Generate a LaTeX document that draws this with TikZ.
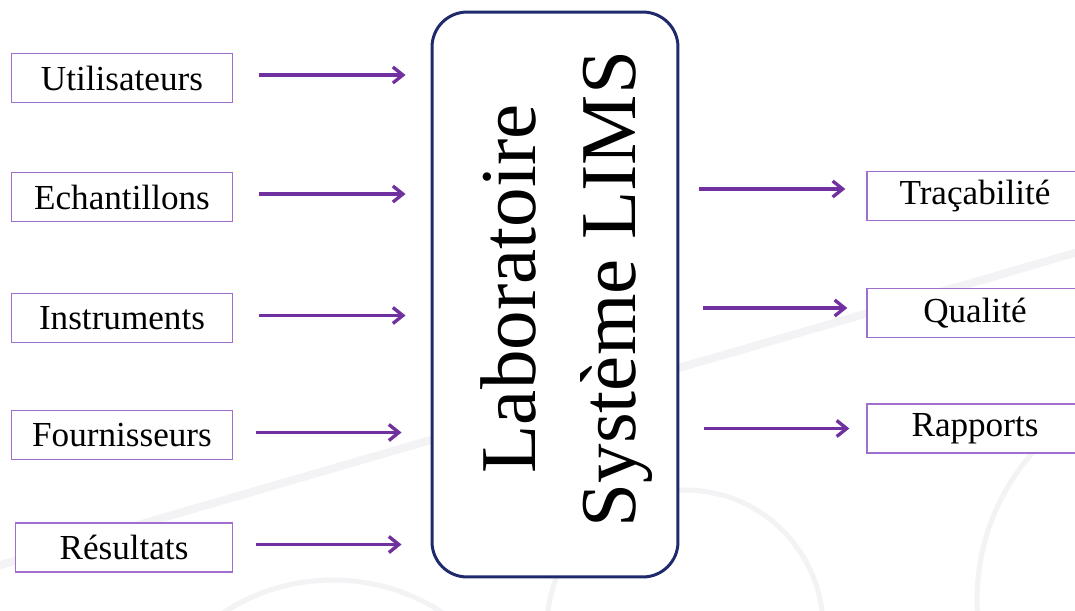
\documentclass[tikz,border=0pt]{standalone}
\usepackage{fontspec}
\setmainfont{Liberation Serif}
\usepackage{tikz}
\usetikzlibrary{arrows.meta,positioning}
\usepackage{xcolor}
\definecolor{limspurple}{RGB}{112,48,160}
\definecolor{limslilac}{RGB}{160,110,205}
\definecolor{limsnavy}{RGB}{30,42,108}
\definecolor{limsshade}{RGB}{243,243,245}
\tikzstyle{arrow} = [line width=1.9pt,-{Straight Barb[length=0.2cm,width=0.32cm]},color=limspurple,shorten <=0.52cm,shorten >=0.5cm]
\tikzstyle{item} = [rectangle, minimum width=4.42cm, minimum height=0.98cm, text centered, draw=limslilac, fill=white, line width=0.8pt, font=\fontsize{20}{24}\selectfont]
\tikzstyle{core} = [rectangle, rounded corners=0.7cm, minimum width=4.92cm, minimum height=11.3cm, draw=limsnavy, fill=white, line width=1.7pt]
\tikzstyle{swirl} = [limsshade, line width=0.1cm]

\begin{document}
\begin{tikzpicture}[x=0.02cm, y=-0.02cm]
\useasboundingbox (0,0) rectangle (1075,610);
\clip (0,0) rectangle (1075,610);
\fill[white] (0,0) rectangle (1075,610);

% Background swirls
\draw[swirl, line width=0.16cm] (-10,568) -- (1085,250);
\draw[swirl] (685,628) circle (138);
\draw[swirl] (333,780) circle (200);
\draw[swirl] (1200,600) circle (223);

% Central system
\node (lims) [core] at (555,294.5) {};
\node (limstext) [rotate=90, align=center, inner sep=0pt, font=\fontsize{45}{57}\selectfont] at (567,289) {Laboratoire\\Système LIMS};

% Inputs
\node (users) [item] at (122,78) {Utilisateurs};
\node (samples) [item] at (122,197) {Echantillons};
\node (instruments) [item] at (122,318) {Instruments};
\node (suppliers) [item] at (122,435) {Fournisseurs};
\node (results) [item, minimum width=4.34cm] at (124,547.5) {Résultats};

% Outputs
\node (trace) [item, minimum width=4.32cm] at (975,196) {Traçabilité};
\node (quality) [item, minimum width=4.32cm] at (975,313) {Qualité};
\node (reports) [item, minimum width=4.32cm] at (975,428.5) {Rapports};

% Arrows in
\draw[arrow] ([yshift=0.06cm]users.east) -- ([yshift=0.06cm]users.east -| lims.west);
\draw[arrow] ([yshift=0.06cm]samples.east) -- ([yshift=0.06cm]samples.east -| lims.west);
\draw[arrow] ([yshift=0.05cm]instruments.east) -- ([yshift=0.05cm]instruments.east -| lims.west);
\draw[arrow, shorten <=0.46cm, shorten >=0.58cm] ([yshift=0.05cm]suppliers.east) -- ([yshift=0.05cm]suppliers.east -| lims.west);
\draw[arrow, shorten <=0.46cm, shorten >=0.58cm] ([yshift=0.06cm]results.east) -- ([yshift=0.06cm]results.east -| lims.west);

% Arrows out
\draw[arrow, shorten <=0.4cm, shorten >=0.42cm] ([yshift=0.14cm]trace.west -| lims.east) -- ([yshift=0.14cm]trace.west);
\draw[arrow, shorten <=0.48cm, shorten >=0.38cm] ([yshift=0.1cm]quality.west -| lims.east) -- ([yshift=0.1cm]quality.west);
\draw[arrow, shorten <=0.5cm, shorten >=0.34cm] (reports.west -| lims.east) -- (reports.west);
\end{tikzpicture}
\end{document}
